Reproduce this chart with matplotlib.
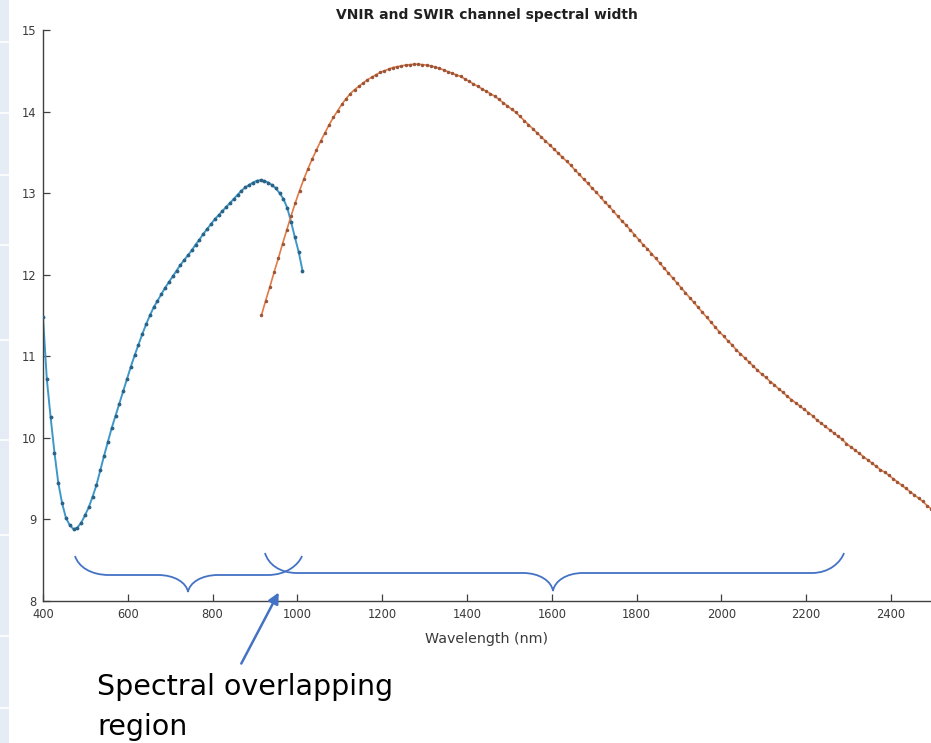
import numpy as np
import matplotlib
matplotlib.use("Agg")
from matplotlib import pyplot as plt
import matplotlib.patches as patches
from matplotlib.path import Path

# VNIR channels (nm) and their spectral width (nm)
vnir_wl = np.arange(400, 1013, 9)
vnir_width = [
    11.48, 10.72, 10.25, 9.82, 9.45, 9.20, 9.02, 8.93, 8.88, 8.90,
    8.96, 9.05, 9.15, 9.28, 9.42, 9.60, 9.78, 9.95, 10.12, 10.27,
    10.42, 10.57, 10.72, 10.87, 11.01, 11.14, 11.27, 11.39, 11.50, 11.60,
    11.68, 11.76, 11.84, 11.91, 11.98, 12.05, 12.12, 12.18, 12.24, 12.30,
    12.37, 12.43, 12.50, 12.56, 12.62, 12.68, 12.73, 12.78, 12.83, 12.88,
    12.93, 12.98, 13.03, 13.07, 13.10, 13.13, 13.15, 13.16, 13.15, 13.13,
    13.10, 13.06, 13.00, 12.93, 12.82, 12.65, 12.46, 12.28, 12.05,
]

# SWIR channels
swir_wl = np.arange(915, 2506, 10)
swir_width = [
    11.50, 11.68, 11.85, 12.03, 12.20, 12.38, 12.55, 12.72, 12.88, 13.03,
    13.17, 13.30, 13.42, 13.53, 13.64, 13.74, 13.84, 13.93, 14.01, 14.09,
    14.16, 14.22, 14.27, 14.31, 14.35, 14.39, 14.42, 14.45, 14.48, 14.50,
    14.52, 14.54, 14.55, 14.56, 14.57, 14.575, 14.58, 14.58, 14.575, 14.57,
    14.56, 14.545, 14.53, 14.51, 14.49, 14.47, 14.45, 14.43, 14.40, 14.37,
    14.34, 14.31, 14.28, 14.25, 14.22, 14.19, 14.15, 14.11, 14.07, 14.03,
    13.99, 13.94, 13.89, 13.84, 13.79, 13.74, 13.69, 13.64, 13.59, 13.54,
    13.49, 13.44, 13.39, 13.34, 13.28, 13.23, 13.17, 13.12, 13.06, 13.01,
    12.95, 12.89, 12.84, 12.78, 12.72, 12.66, 12.61, 12.55, 12.49, 12.43,
    12.37, 12.32, 12.26, 12.20, 12.14, 12.08, 12.02, 11.96, 11.90, 11.84,
    11.78, 11.72, 11.66, 11.60, 11.54, 11.48, 11.42, 11.36, 11.30, 11.25,
    11.19, 11.14, 11.08, 11.03, 10.98, 10.93, 10.88, 10.83, 10.78, 10.74,
    10.69, 10.65, 10.60, 10.56, 10.51, 10.47, 10.43, 10.39, 10.35, 10.31,
    10.27, 10.22, 10.18, 10.14, 10.10, 10.06, 10.02, 9.98, 9.93, 9.89,
    9.85, 9.81, 9.77, 9.73, 9.69, 9.65, 9.61, 9.58, 9.54, 9.50,
    9.46, 9.42, 9.38, 9.34, 9.30, 9.26, 9.22, 9.17, 9.13, 9.09,
]

x_ticks = [400, 600, 800, 1000, 1200, 1400, 1600, 1800, 2000, 2200, 2400]
y_ticks = [8, 9, 10, 11, 12, 13, 14, 15]

W, H = 931, 743
ANNOT = "#4472c4"


def fx(x):
    return x / W


def fy(y):
    return 1 - y / H


def brace(fig, x0, x1, xm, ytop, yline, ytip, r_end, r_tip):
    # curly brace drawn in figure pixels (y measured from the top)
    k = 0.55
    pts = [
        (x0, ytop),
        (x0 + 0.1 * r_end, ytop + k * (yline - ytop)), (x0 + r_end - k * r_end, yline), (x0 + r_end, yline),
        (xm - r_tip, yline),
        (xm - r_tip + k * r_tip, yline), (xm - 0.05 * r_tip, ytip - k * (ytip - yline)), (xm, ytip),
        (xm + 0.05 * r_tip, ytip - k * (ytip - yline)), (xm + r_tip - k * r_tip, yline), (xm + r_tip, yline),
        (x1 - r_end, yline),
        (x1 - r_end + k * r_end, yline), (x1 - 0.1 * r_end, yline - k * (yline - ytop)), (x1, ytop),
    ]
    codes = [Path.MOVETO] + [Path.CURVE4] * 3 + [Path.LINETO] + [Path.CURVE4] * 6 \
        + [Path.LINETO] + [Path.CURVE4] * 3
    verts = [(fx(x), fy(y)) for x, y in pts]
    p = patches.PathPatch(Path(verts, codes), facecolor="none", edgecolor=ANNOT,
                          lw=1.3, transform=fig.transFigure)
    fig.add_artist(p)


fig = plt.figure(figsize=(W / 100, H / 100), dpi=100)
ax = fig.add_axes([fx(43), fy(601), 1 - fx(43), fy(30) - fy(601)])

ax.plot(vnir_wl, vnir_width, "-", color="#3d98c9", lw=1.4, zorder=2)
ax.plot(vnir_wl, vnir_width, ".", color="#2b6386", ms=3.5, zorder=3)
ax.plot(swir_wl, swir_width, "-", color="#e27a46", lw=1.2, zorder=2)
ax.plot(swir_wl, swir_width, ".", color="#9b5639", ms=3.0, zorder=3)

ax.set_xlim(400, 2494.3)
ax.set_ylim(8, 15)
ax.set_xticks(x_ticks)
ax.set_yticks(y_ticks)
ax.tick_params(direction="in", length=5, width=0.9, colors="#404040",
               labelsize=8.3, labelcolor="#3a3a3a", pad=5)
for s in ["top", "right"]:
    ax.spines[s].set_visible(False)
for s in ["left", "bottom"]:
    ax.spines[s].set_color("#404040")
    ax.spines[s].set_linewidth(1.0)

ax.set_xlabel("Wavelength (nm)", fontsize=10.3, color="#3a3a3a", labelpad=8)
ax.set_title("VNIR and SWIR channel spectral width", fontsize=10,
             fontweight="bold", color="#202020", pad=8)

# pale strip on the left edge (screenshot border)
fig.add_artist(patches.Rectangle((0, 0), fx(9), 1, facecolor="#e6ecf5",
                                 edgecolor="none", transform=fig.transFigure))
for yy in [42, 113, 175, 245, 340, 440, 535, 636, 708]:
    fig.add_artist(plt.Line2D([0, fx(9)], [fy(yy), fy(yy)], color="white",
                              lw=1.2, transform=fig.transFigure))

# braces marking the two channel ranges
brace(fig, 75, 302, 188, 556, 575, 592, 34, 30)
brace(fig, 265, 844, 553, 553, 573, 591, 32, 30)

# arrow and note
arrow = patches.FancyArrowPatch((fx(240), fy(666)), (fx(280), fy(590)),
                                transform=fig.transFigure, arrowstyle="-|>",
                                mutation_scale=16, color=ANNOT, lw=1.8)
fig.add_artist(arrow)
fig.text(fx(97), fy(687), "Spectral overlapping", fontsize=20.5, va="center",
         ha="left", color="black")
fig.text(fx(97), fy(727), "region", fontsize=20.5, va="center", ha="left",
         color="black")

fig.savefig("out.png", dpi=100)
